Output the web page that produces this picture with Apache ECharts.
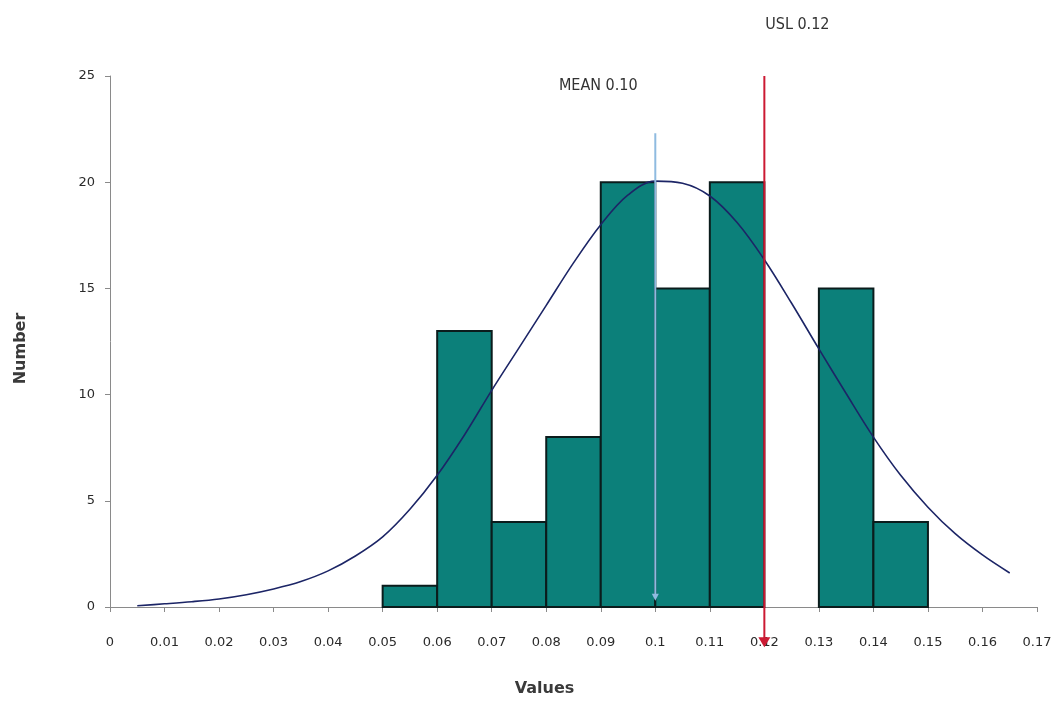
<!DOCTYPE html>
<html><head><meta charset="utf-8">
<script src="https://cdn.jsdelivr.net/npm/echarts@6/dist/echarts.min.js"></script>
<style>html,body{margin:0;padding:0;background:#fff}#c{width:1060px;height:702px}</style>
</head><body><div id="c"></div>
<script>
// Histogram bins (start of bin) and counts
const binStarts = [0.05, 0.06, 0.07, 0.08, 0.09, 0.10, 0.11, 0.12, 0.13, 0.14];
const binWidth = 0.01;
const counts = [1, 13, 4, 8, 20, 15, 20, 0, 15, 4];
// Fitted curve points
const curveX = [0.005,0.01,0.015,0.02,0.025,0.03,0.035,0.04,0.045,0.05,0.055,0.06,0.065,0.07,0.075,0.08,0.085,0.09,0.095,0.1,0.105,0.11,0.115,0.12,0.125,0.13,0.135,0.14,0.145,0.15,0.155,0.16,0.165];
const curveY = [0.06,0.15,0.25,0.38,0.58,0.85,1.2,1.7,2.4,3.3,4.6,6.2,8.1,10.2,12.2,14.2,16.2,18.0,19.4,20.05,19.95,19.35,18.1,16.35,14.3,12.15,10.05,8.0,6.2,4.7,3.45,2.45,1.6];
// Axis ticks
const xTicks = {min: 0, max: 0.17, interval: 0.01};
const yTicks = {min: 0, max: 25, interval: 5};
// Reference lines (mean and upper spec limit)
const refX = [0.10, 0.12];
const refTop = [22.3, 25];
const refBottom = [0.3, -1.9];
const refLabels = ['MEAN 0.10', 'USL 0.12'];

const chart = echarts.init(document.getElementById('c'));
const barData = binStarts.map((s, i) => [s, s + binWidth, counts[i]]);
const refData = refX.map((x, i) => [x, refTop[i], refBottom[i], i]);
const refColors = ['#8fbbe0', '#cc1a33'];
const refArrow = [[3.5, 7], [6, 10]];
const refLabelOffset = [[-57, -48], [33, -51]];

chart.setOption({
  animation: false,
  backgroundColor: '#fff',
  grid: {left: 110, right: 23, top: 76, bottom: 94},
  xAxis: {
    type: 'value', min: xTicks.min, max: xTicks.max, interval: xTicks.interval,
    name: 'Values', nameLocation: 'middle', nameGap: 74,
    nameTextStyle: {fontFamily: 'DejaVu Sans', fontSize: 16, fontWeight: 'bold', color: '#3a3a3a', padding: [0, 58, 0, 0]},
    axisLine: {show: true, lineStyle: {color: '#8a8a8a'}},
    axisTick: {show: true, length: 5, lineStyle: {color: '#8a8a8a'}},
    axisLabel: {fontFamily: 'DejaVu Sans', fontSize: 13, color: '#2a2a2a', margin: 29},
    splitLine: {show: false}
  },
  yAxis: {
    type: 'value', min: yTicks.min, max: yTicks.max, interval: yTicks.interval,
    name: 'Number', nameLocation: 'middle', nameGap: 81, nameRotate: 90,
    nameTextStyle: {fontFamily: 'DejaVu Sans', fontSize: 16, fontWeight: 'bold', color: '#3a3a3a', padding: [0, 14, 0, 0]},
    axisLine: {show: true, lineStyle: {color: '#8a8a8a'}},
    axisTick: {show: true, length: 5, lineStyle: {color: '#8a8a8a'}},
    axisLabel: {fontFamily: 'DejaVu Sans', fontSize: 13, color: '#2a2a2a', margin: 15},
    splitLine: {show: false}
  },
  series: [
    {
      type: 'custom',
      data: barData,
      encode: {x: [0, 1], y: 2},
      renderItem: function (params, api) {
        if (!api.value(2)) return null;
        const p0 = api.coord([api.value(0), 0]);
        const p1 = api.coord([api.value(1), api.value(2)]);
        return {
          type: 'rect',
          shape: {x: p0[0], y: p1[1], width: p1[0] - p0[0], height: p0[1] - p1[1]},
          style: {fill: '#0c807a', stroke: '#0b1c1c', lineWidth: 2}
        };
      },
      z: 2
    },
    {
      type: 'line',
      data: curveX.map((x, i) => [x, curveY[i]]),
      smooth: 0.35,
      smoothConstraint: false,
      showSymbol: false,
      lineStyle: {color: '#1c2566', width: 1.6},
      z: 3
    },
    {
      type: 'custom',
      data: refData,
      encode: {x: 0, y: [1, 2]},
      clip: false,
      z: 4,
      renderItem: function (params, api) {
        const i = api.value(3);
        const top = api.coord([api.value(0), api.value(1)]);
        const bot = api.coord([api.value(0), api.value(2)]);
        const a = refArrow[i];
        const col = refColors[i];
        return {
          type: 'group',
          children: [
            {type: 'line', shape: {x1: top[0], y1: top[1], x2: bot[0], y2: bot[1] - a[1] + 1},
             style: {stroke: col, lineWidth: 2}},
            {type: 'polygon', shape: {points: [[bot[0] - a[0], bot[1] - a[1]], [bot[0] + a[0], bot[1] - a[1]], [bot[0], bot[1]]]},
             style: {fill: col}},
            {type: 'text', x: top[0] + refLabelOffset[i][0], y: top[1] + refLabelOffset[i][1],
             style: {text: refLabels[i], align: 'center', verticalAlign: 'middle',
                     font: '16px "DejaVu Sans Condensed", "Liberation Sans Narrow", sans-serif', fill: '#333'}}
          ]
        };
      }
    }
  ]
});
</script>
</body></html>
